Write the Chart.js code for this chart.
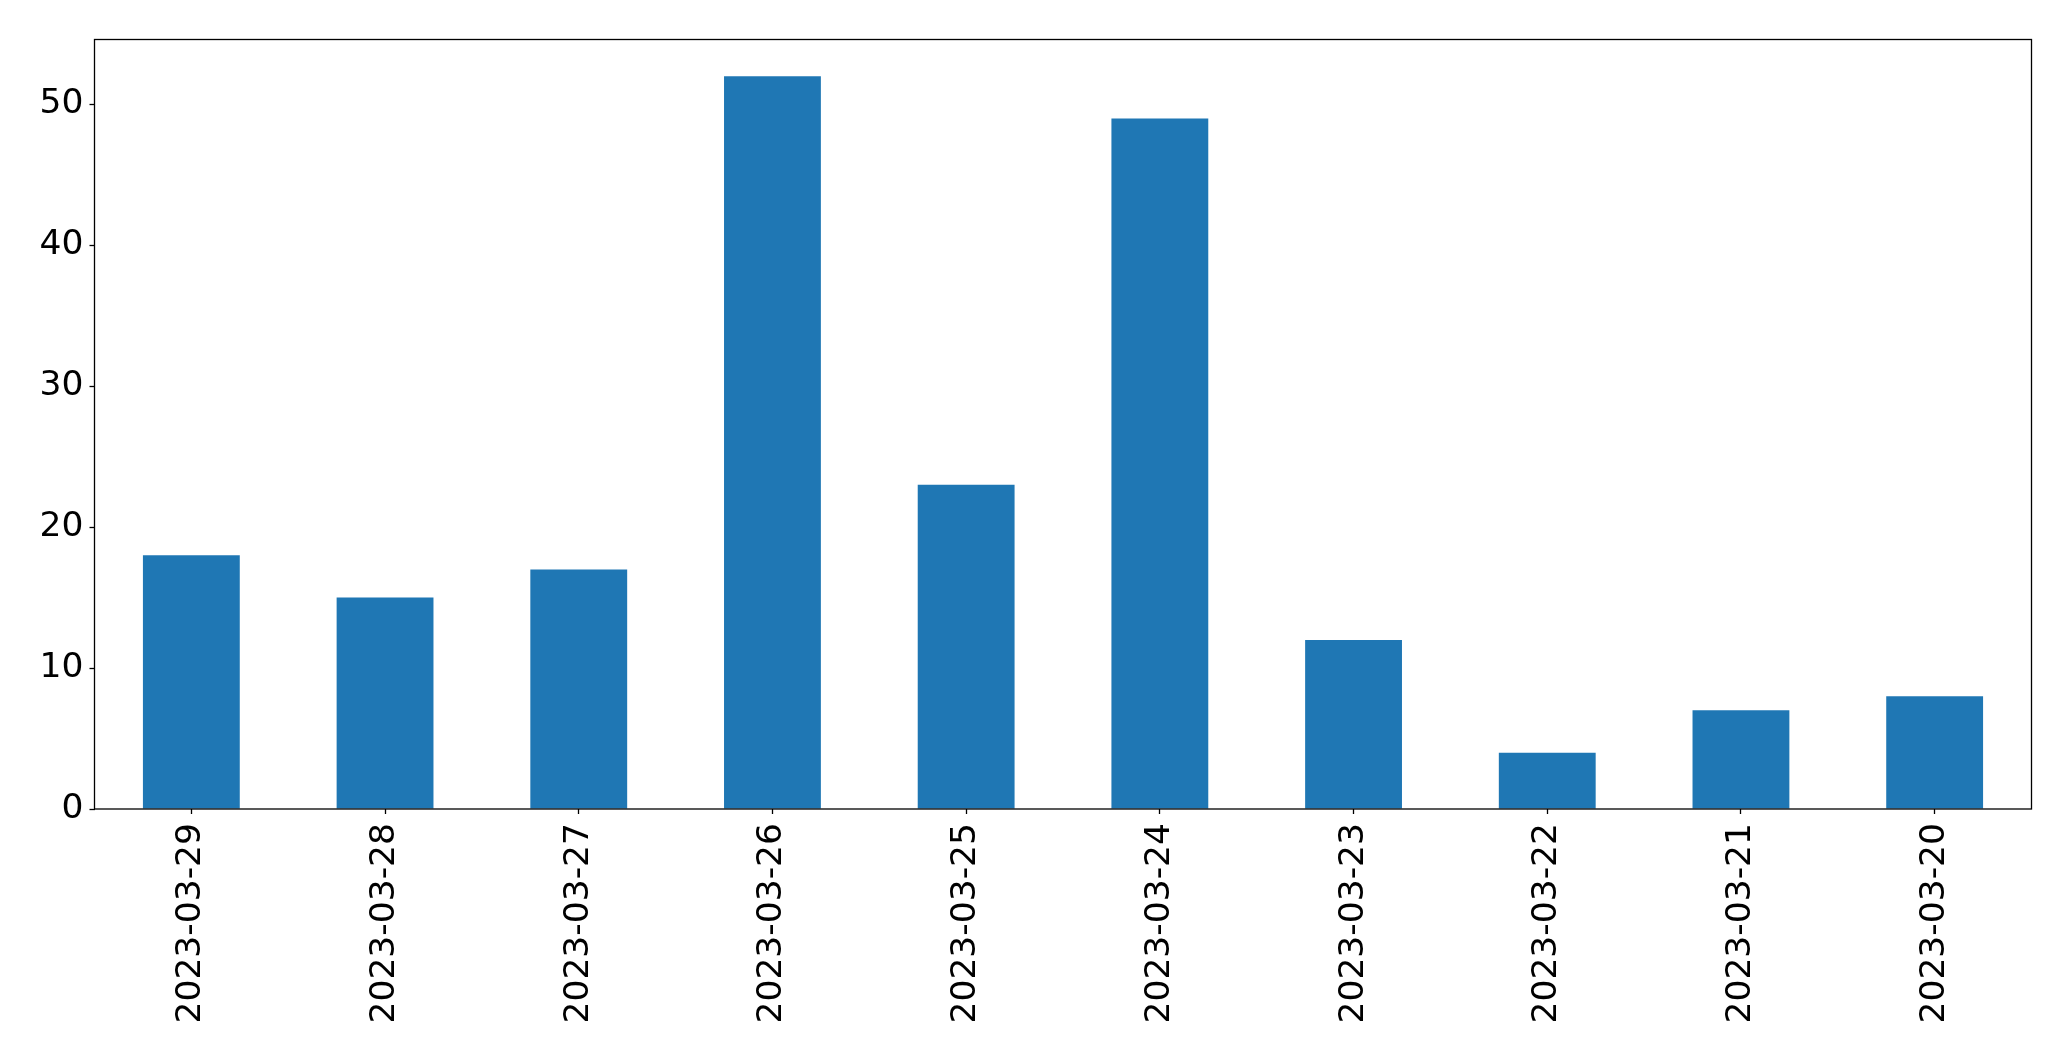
<!DOCTYPE html>
<html>
<head>
<meta charset="utf-8">
<script src="https://cdn.jsdelivr.net/npm/chart.js@4.4.0/dist/chart.umd.min.js"></script>
<style>
  html, body { margin: 0; padding: 0; background: #fff; }
  canvas { display: block; }
</style>
</head>
<body>
<canvas id="chart" width="2071" height="1061"></canvas>
<script>
// dates as they appear on the x axis (newest first)
const dates = [
  '2023-03-29', '2023-03-28', '2023-03-27', '2023-03-26', '2023-03-25',
  '2023-03-24', '2023-03-23', '2023-03-22', '2023-03-21', '2023-03-20'
];
const counts = [18, 15, 17, 52, 23, 49, 12, 4, 7, 8];
const yTicks = [0, 10, 20, 30, 40, 50];

// plot box edges, px
const box = { left: 94.5, top: 39.5, right: 2031.5, bottom: 809 };

const frame = {
  id: 'frame',
  afterDraw(chart) {
    const { ctx, chartArea: a } = chart;
    ctx.save();
    ctx.strokeStyle = '#000';
    ctx.lineWidth = 1.3;
    ctx.strokeRect(a.left, a.top, a.right - a.left, a.bottom - a.top);
    ctx.restore();
  }
};

const font = { family: 'DejaVu Sans', size: 34.5 };

new Chart(document.getElementById('chart'), {
  type: 'bar',
  data: {
    labels: dates,
    datasets: [{
      data: counts,
      backgroundColor: '#1f77b4',
      barPercentage: 0.5,
      categoryPercentage: 1.0
    }]
  },
  options: {
    responsive: false,
    animation: false,
    layout: {
      padding: { left: 0, top: box.top, right: 2071 - box.right, bottom: 0 }
    },
    plugins: { legend: { display: false }, tooltip: { enabled: false } },
    scales: {
      x: {
        offset: true,
        grid: {
          offset: false,
          drawOnChartArea: false,
          tickLength: 5,
          tickColor: '#000',
          tickWidth: 1.3
        },
        border: { display: false },
        ticks: {
          color: '#000',
          font: font,
          minRotation: 90,
          maxRotation: 90,
          padding: 9,
          autoSkip: false
        },
        afterFit(scale) { scale.height = 1061 - box.bottom; }
      },
      y: {
        min: 0,
        max: 54.6,
        grid: {
          drawOnChartArea: false,
          tickLength: 5,
          tickColor: '#000',
          tickWidth: 1.3
        },
        border: { display: false },
        ticks: {
          color: '#000',
          font: font,
          padding: 6,
          includeBounds: false,
          stepSize: 10,
          callback: v => yTicks.includes(v) ? v : null
        },
        afterFit(scale) { scale.width = box.left; }
      }
    }
  },
  plugins: [frame]
});
</script>
</body>
</html>
